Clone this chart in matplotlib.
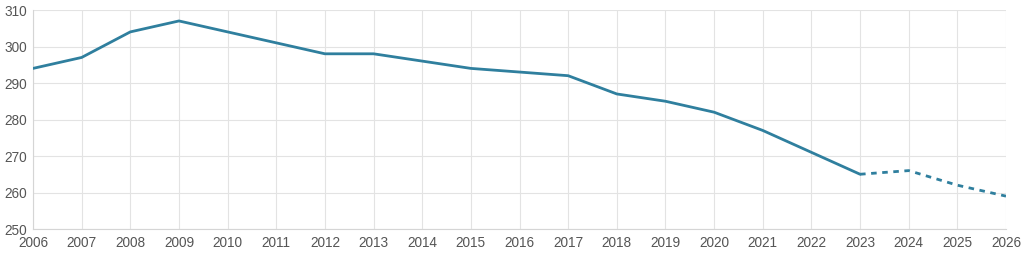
import matplotlib
matplotlib.use("Agg")
import matplotlib.pyplot as plt

# Datos
years = list(range(2006, 2024))
values = [294, 297, 304, 307, 304, 301, 298, 298, 296, 294, 293, 292, 287, 285, 282, 277, 271, 265]
proj_years = [2023, 2024, 2025, 2026]
proj_values = [265, 266, 262, 259]

line_color = "#2f7f9e"
grid_color = "#e3e3e3"
text_color = "#555555"

plt.rcParams["font.family"] = ["Liberation Sans", "DejaVu Sans"]

fig = plt.figure(figsize=(10.24, 2.56), dpi=100)
ax = fig.add_axes([33 / 1024, 27 / 256, 973 / 1024, 219 / 256])

ax.plot(years, values, color=line_color, lw=2.0, solid_capstyle="round", zorder=3)
ax.plot(proj_years, proj_values, color=line_color, lw=2.0, dashes=(2, 2), zorder=3)

ax.set_xlim(2006, 2026)
ax.set_ylim(250, 310)
ax.set_xticks(range(2006, 2027))
ax.set_yticks(range(250, 311, 10))

ax.grid(True, color=grid_color, lw=0.8)
ax.set_axisbelow(True)
for side in ["top", "right"]:
    ax.spines[side].set_visible(False)
for side in ["left", "bottom"]:
    ax.spines[side].set_color("#d5d5d5")
    ax.spines[side].set_linewidth(0.8)

ax.tick_params(axis="both", length=0, labelsize=9.8, colors=text_color)
ax.tick_params(axis="x", pad=5)
ax.tick_params(axis="y", pad=4)

fig.savefig("out.png", dpi=100)
